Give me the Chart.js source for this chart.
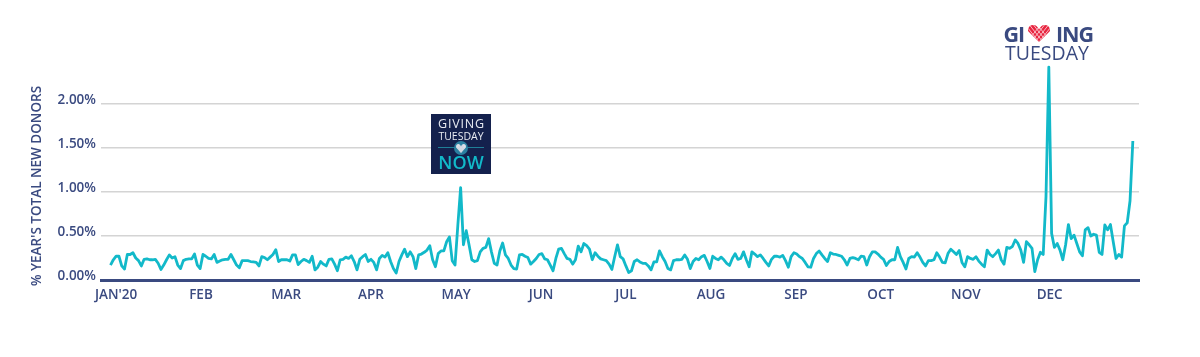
<!DOCTYPE html>
<html>
<head>
<meta charset="utf-8">
<title>% year's total new donors</title>
<script src="https://cdn.jsdelivr.net/npm/chart.js@4/dist/chart.umd.min.js"></script>
<style>
html, body { margin: 0; padding: 0; background: #fff; }
#wrap { position: relative; width: 1200px; height: 357px; }
</style>
</head>
<body>
<div id="wrap"><canvas id="chart"></canvas></div>
<script>
// daily values for 2020
const dailyShare = [
  .17,.23,.27,.27,.16,.125,.29,.29,.31,.25,
  .22,.16,.235,.24,.23,.23,.235,.19,.12,.17,
  .23,.285,.25,.265,.17,.13,.22,.235,.24,.24,
  .295,.17,.13,.29,.27,.245,.24,.29,.2,.215,
  .23,.235,.235,.29,.23,.17,.14,.22,.22,.22,
  .21,.205,.2,.16,.265,.255,.23,.26,.29,.345,
  .21,.23,.23,.23,.215,.285,.285,.175,.21,.235,
  .22,.2,.27,.115,.145,.21,.18,.16,.235,.24,
  .18,.105,.23,.235,.26,.245,.275,.21,.115,.235,
  .265,.29,.21,.235,.2,.115,.245,.28,.26,.31,
  .21,.13,.08,.21,.285,.35,.265,.32,.265,.13,
  .285,.295,.315,.34,.39,.23,.15,.30,.33,.33,
  .435,.49,.22,.17,.62,1.05,.40,.56,.40,.23,
  .21,.22,.32,.36,.37,.47,.32,.19,.17,.33,
  .42,.285,.245,.17,.13,.125,.285,.29,.27,.255,
  .18,.21,.245,.29,.30,.24,.23,.17,.105,.245,
  .35,.36,.30,.245,.235,.18,.23,.385,.32,.415,
  .39,.35,.23,.31,.27,.24,.23,.22,.18,.12,
  .265,.40,.265,.24,.16,.085,.105,.21,.23,.205,
  .19,.19,.16,.115,.205,.205,.33,.265,.21,.13,
  .115,.22,.23,.23,.235,.285,.235,.13,.21,.245,
  .23,.265,.28,.21,.13,.27,.245,.23,.26,.23,
  .19,.165,.245,.30,.235,.245,.32,.23,.15,.32,
  .295,.265,.285,.245,.2,.16,.235,.27,.27,.26,
  .28,.22,.145,.265,.31,.295,.265,.245,.2,.15,
  .145,.245,.30,.33,.285,.245,.21,.31,.295,.29,
  .28,.27,.23,.17,.245,.255,.245,.23,.27,.265,
  .17,.265,.32,.32,.295,.26,.235,.165,.21,.23,
  .23,.37,.265,.2,.125,.245,.265,.26,.31,.26,
  .2,.16,.22,.22,.23,.31,.26,.2,.195,.30,
  .35,.32,.29,.335,.2,.15,.265,.245,.235,.265,
  .215,.18,.15,.34,.29,.265,.30,.34,.23,.18,
  .37,.36,.38,.455,.415,.34,.20,.435,.40,.36,
  .095,.23,.315,.29,.95,2.42,.53,.37,.415,.34,
  .23,.40,.63,.47,.51,.415,.32,.275,.57,.595,
  .50,.52,.51,.315,.29,.625,.57,.63,.435,.245,
  .29,.26,.615,.65,.9,1.58
];
const monthLabels = ["JAN'20", 'FEB', 'MAR', 'APR', 'MAY', 'JUN', 'JUL', 'AUG', 'SEP', 'OCT', 'NOV', 'DEC'];
const monthTicks = [2, 32.3, 62.7, 93, 123.4, 153.7, 184, 214.4, 244.7, 275, 305.4, 335.3]; // labels are evenly spaced, not true month starts
const yTicks = [0, 0.5, 1, 1.5, 2];
const yTitle = "% YEAR'S TOTAL NEW DONORS";

const NAVY = '#3a4a80';
const TEAL = '#12b9c9';
const FONT = '"Open Sans"';

// heart with white stripes, used by both logos
function heart(c, cx, top, w, h, fill, stripe) {
    c.save();
    c.beginPath();
    c.moveTo(cx, top + h);
    c.lineTo(cx - w / 2, top + h * 0.35);
    c.quadraticCurveTo(cx - w / 2, top, cx - w / 4, top);
    c.quadraticCurveTo(cx - w / 12, top, cx, top + h * 0.28);
    c.quadraticCurveTo(cx + w / 12, top, cx + w / 4, top);
    c.quadraticCurveTo(cx + w / 2, top, cx + w / 2, top + h * 0.35);
    c.closePath();
    c.fillStyle = fill;
    c.fill();
    c.clip();
    c.strokeStyle = stripe;
    c.lineWidth = w / 26;
    for (let i = -2; i <= 2; i++) {
        c.beginPath();
        c.moveTo(cx + i * w / 5.5 - w / 2, top - 2);
        c.lineTo(cx + i * w / 5.5 + w / 4, top + h + 2);
        c.moveTo(cx + i * w / 5.5 + w / 2, top - 2);
        c.lineTo(cx + i * w / 5.5 - w / 4, top + h + 2);
        c.stroke();
    }
    c.restore();
}

const extras = {
    id: 'extras',
    afterDraw(chart) {
        const c = chart.ctx;
        c.save();

        // y axis title
        c.save();
        c.translate(37, 186);
        c.rotate(-Math.PI / 2);
        c.fillStyle = NAVY;
        c.font = '600 13.5px ' + FONT;
        c.textAlign = 'center';
        c.textBaseline = 'middle';
        c.fillText(yTitle, 0, 0);
        c.restore();

        // GivingTuesdayNow box
        c.fillStyle = '#14214d';
        c.fillRect(431, 114, 60, 60);
        c.textAlign = 'center';
        c.textBaseline = 'alphabetic';
        c.fillStyle = '#e8ebf2';
        c.letterSpacing = '0.8px';
        c.font = '400 12.5px ' + FONT;
        c.fillText('GIVING', 461.5, 128);
        c.letterSpacing = '0px';
        c.font = '400 10.5px ' + FONT;
        c.fillText('TUESDAY', 461, 139.5);
        c.strokeStyle = '#1f7f98';
        c.lineWidth = 1;
        c.beginPath();
        c.moveTo(438, 147.5);
        c.lineTo(484, 147.5);
        c.stroke();
        c.fillStyle = '#2a7fa0';
        c.beginPath();
        c.arc(461, 148, 7, 0, Math.PI * 2);
        c.fill();
        heart(c, 461, 144, 10, 9, '#e4e6ee', '#b9bfd0');
        c.fillStyle = TEAL;
        c.font = '600 18px ' + FONT;
        c.fillText('NOW', 461, 168.5);

        // GivingTuesday logo
        c.fillStyle = NAVY;
        c.font = '700 21.5px ' + FONT;
        c.textAlign = 'left';
        c.letterSpacing = '-1px';
        c.fillText('GI', 1003.5, 42);
        c.fillText('ING', 1056, 42);
        c.letterSpacing = '0px';
        heart(c, 1039, 25, 22, 17, '#e8243f', '#fbd5da');
        c.font = '400 19.5px ' + FONT;
        c.textAlign = 'center';
        c.fillText('TUESDAY', 1047, 60);

        c.restore();
    }
};

new Chart(document.getElementById('chart'), {
    type: 'line',
    data: {
        labels: dailyShare.map((v, i) => i),
        datasets: [{
            data: dailyShare.map((v, i) => ({ x: i, y: v })),
            borderColor: TEAL,
            borderWidth: 2.8,
            borderJoinStyle: 'round',
            pointRadius: 0,
            tension: 0,
            clip: false
        }]
    },
    options: {
        responsive: true,
        maintainAspectRatio: false,
        animation: false,
        layout: { padding: { left: 41, right: 61, top: 60, bottom: 47 } },
        plugins: { legend: { display: false }, tooltip: { enabled: false }, title: { display: false } },
        scales: {
            x: {
                type: 'linear',
                min: -3.4,
                max: 367.2,
                afterBuildTicks: s => { s.ticks = monthTicks.map(v => ({ value: v })); },
                afterFit: s => { s.height = 30; },
                grid: { display: false, drawTicks: false },
                border: { color: NAVY, width: 3 },
                ticks: {
                    autoSkip: false,
                    maxRotation: 0,
                    padding: 7,
                    color: NAVY,
                    font: { family: FONT, size: 13.5, weight: '600' },
                    callback: (value, index) => monthLabels[index]
                }
            },
            y: {
                min: 0,
                max: 2.5,
                afterBuildTicks: s => { s.ticks = yTicks.map(v => ({ value: v })); },
                afterFit: s => { s.width = 60; },
                grid: { color: '#d4d4d4', lineWidth: 1.5, drawTicks: false },
                border: { display: false },
                ticks: {
                    autoSkip: false,
                    padding: 5,
                    labelOffset: -4,
                    color: NAVY,
                    font: { family: FONT, size: 13.5, weight: '600' },
                    callback: value => value.toFixed(2) + '%'
                }
            }
        }
    },
    plugins: [extras]
});
</script>
</body>
</html>
